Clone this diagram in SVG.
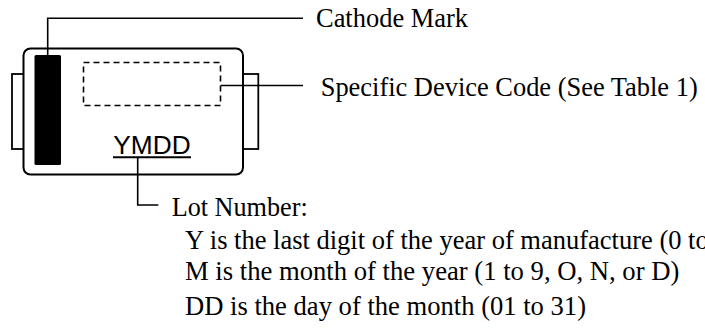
<svg xmlns="http://www.w3.org/2000/svg" width="705" height="331" viewBox="0 0 705 331">
  <style>
    .outline { fill: #ffffff; stroke: #000000; stroke-width: 2; }
    .tab { fill: #ffffff; stroke: #000000; stroke-width: 1.8; }
    .dash { fill: none; stroke: #000000; stroke-width: 1.6; stroke-dasharray: 6 4; }
    .lead { fill: none; stroke: #000000; stroke-width: 1.6; }
    .lbl { font-family: "Liberation Serif", "Times New Roman", serif; font-size: 26.5px; fill: #000000; }
    .mark { font-family: "Liberation Sans", Arial, sans-serif; font-size: 25.5px; fill: #000000; }
  </style>
  <rect width="705" height="331" fill="#ffffff"/>
  <g id="package">
    <rect class="tab" x="12" y="74" width="12" height="75"/>
    <rect class="tab" x="242.5" y="74" width="15.8" height="75"/>
    <rect class="outline" x="23.5" y="48.5" width="219.5" height="126" rx="7"/>
    <rect id="cathode-band" x="34.5" y="55" width="26.5" height="110" rx="1.5" fill="#000000"/>
    <rect id="device-code-box" class="dash" x="83.5" y="62.5" width="137" height="43"/>
    <g id="lot-code">
      <text class="mark" x="152" y="154.3" text-anchor="middle" textLength="77.4" lengthAdjust="spacingAndGlyphs">YMDD</text>
      <line x1="113" y1="157.3" x2="191" y2="157.3" stroke="#000000" stroke-width="2"/>
    </g>
  </g>
  <g id="connectors">
    <polyline class="lead" points="47.7,55 47.7,18.3 303,18.3"/>
    <polyline class="lead" points="220.7,85.5 303,85.5"/>
    <polyline class="lead" points="137.7,157.3 137.7,205 158.3,205"/>
  </g>
  <g id="label-cathode">
    <text class="lbl" x="316" y="26.7" textLength="152" lengthAdjust="spacingAndGlyphs">Cathode Mark</text>
  </g>
  <g id="label-device-code">
    <text class="lbl" x="320.7" y="96.2" textLength="377" lengthAdjust="spacingAndGlyphs">Specific Device Code (See Table 1)</text>
  </g>
  <g id="label-lot">
    <text class="lbl" x="171.7" y="215.8" textLength="136" lengthAdjust="spacingAndGlyphs">Lot Number:</text>
    <text class="lbl" x="185" y="249">Y is the last digit of the year of manufacture (0 to 9)</text>
    <text class="lbl" x="185" y="280" textLength="494.3" lengthAdjust="spacingAndGlyphs">M is the month of the year (1 to 9, O, N, or D)</text>
    <text class="lbl" x="185" y="315" textLength="401" lengthAdjust="spacingAndGlyphs">DD is the day of the month (01 to 31)</text>
  </g>
</svg>
